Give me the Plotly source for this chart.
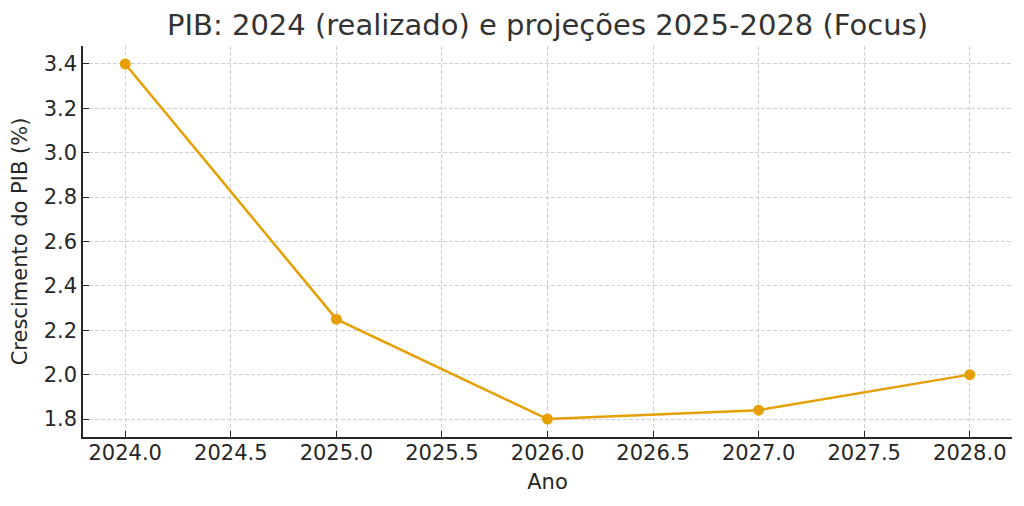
import plotly.graph_objects as go

anos = [2024, 2025, 2026, 2027, 2028]
pib = [3.4, 2.25, 1.8, 1.84, 2.0]
x_ticks = [2024.0, 2024.5, 2025.0, 2025.5, 2026.0, 2026.5, 2027.0, 2027.5, 2028.0]
x_labels = [f"{v:.1f}" for v in x_ticks]
y_ticks = [1.8, 2.0, 2.2, 2.4, 2.6, 2.8, 3.0, 3.2, 3.4]
y_labels = [f"{v:.1f}" for v in y_ticks]

fig = go.Figure()
fig.add_trace(go.Scatter(
    x=anos, y=pib, mode="lines+markers",
    line=dict(color="#E69F00", width=2.5),
    marker=dict(color="#E69F00", size=11),
    showlegend=False,
))

font = "DejaVu Sans"
fig.update_layout(
    width=1024, height=506,
    margin=dict(l=75, r=20, t=38, b=77),
    paper_bgcolor="white", plot_bgcolor="white",
    font=dict(family=font, color="#262626", size=21),
    title=dict(text="PIB: 2024 (realizado) e projeções 2025-2028 (Focus)",
               xref="paper", x=0.5, xanchor="center",
               yref="container", y=0.966, yanchor="middle",
               font=dict(size=29, color="#333333")),
)
common = dict(
    showgrid=True, gridcolor="#cfcfcf", griddash="4px,2px", gridwidth=1,
    showline=True, linecolor="#262626", linewidth=1.5,
    ticks="inside", ticklen=6, tickcolor="#262626",
    zeroline=False, mirror=False, automargin=False,
    tickfont=dict(size=21),
)
fig.update_xaxes(
    range=[2023.8, 2028.2], tickvals=x_ticks, ticktext=x_labels,
    title=dict(text="Ano", font=dict(size=21), standoff=10),
    ticklabelstandoff=-4,
    **common,
)
fig.update_yaxes(
    range=[1.719, 3.481], tickvals=y_ticks, ticktext=y_labels,
    title=dict(text="Crescimento do PIB (%)", font=dict(size=21), standoff=10),
    **common,
)

fig.write_html("out.html")
